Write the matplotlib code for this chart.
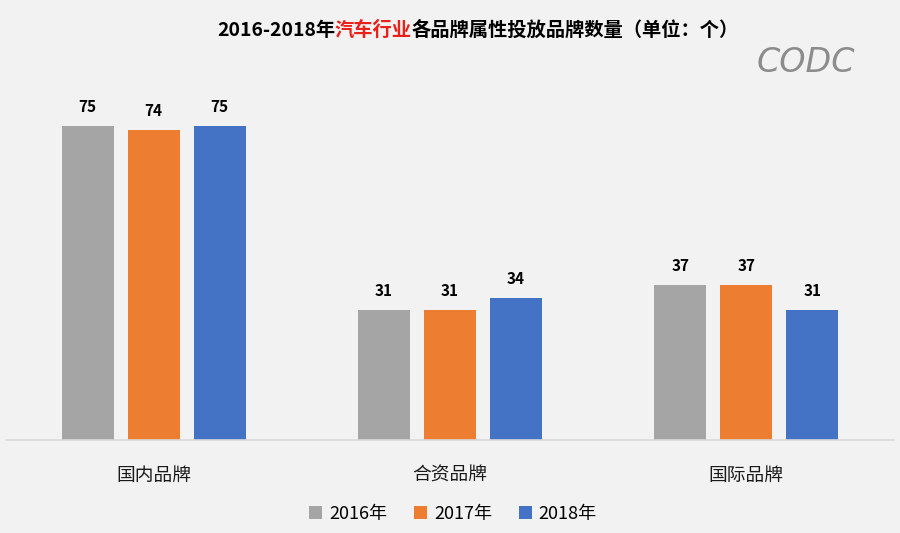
import numpy as np
import matplotlib.pyplot as plt
from matplotlib.offsetbox import TextArea, HPacker, AnchoredOffsetbox

plt.rcParams['font.family'] = ['Noto Sans CJK SC', 'DejaVu Sans']

# Data
categories = ['国内品牌', '合资品牌', '国际品牌']
years = ['2016年', '2017年', '2018年']
values_2016 = [75, 31, 37]
values_2017 = [74, 31, 37]
values_2018 = [75, 34, 31]
colors = ['#A5A5A5', '#ED7D31', '#4472C4']

bg = '#F2F2F2'
fig = plt.figure(figsize=(9, 5.33), dpi=100, facecolor=bg)
ax = fig.add_axes([5.5 / 900, 93 / 533, 889 / 900, 340 / 533])
ax.set_facecolor(bg)

x = np.arange(len(categories))
width = 0.175
step = 0.223
series = [values_2016, values_2017, values_2018]
for i, (vals, year, c) in enumerate(zip(series, years, colors)):
    bars = ax.bar(x + (i - 1) * step, vals, width, color=c, label=year)
    for b, v in zip(bars, vals):
        ax.text(b.get_x() + b.get_width() / 2, v + 2.6, str(v),
                ha='center', va='bottom', fontsize=11, fontweight='bold',
                color='#000000')

ax.set_xlim(-0.5, 2.5)
ax.set_ylim(0, 81.2)
ax.set_xticks(x)
ax.set_xticklabels(categories, fontsize=13.5, color='#1a1a1a')
ax.tick_params(axis='x', length=0, pad=18)
ax.set_yticks([])
for s in ['top', 'right', 'left']:
    ax.spines[s].set_visible(False)
ax.spines['bottom'].set_color('#D9D9D9')
ax.spines['bottom'].set_linewidth(1.2)

# Legend
leg = fig.legend(loc='center', bbox_to_anchor=(453 / 900, 1 - 514 / 533),
                 ncol=3, frameon=False, fontsize=13, handlelength=0.7,
                 handleheight=0.7, handletextpad=0.4, columnspacing=1.5)

# Title with red highlight
parts = [('2016-2018年', '#000000'), ('汽车行业', '#E8211A'),
         ('各品牌属性投放品牌数量（单位：个）', '#000000')]
boxes = [TextArea(t, textprops=dict(color=c, fontsize=13.9, fontweight='bold'))
         for t, c in parts]
title = AnchoredOffsetbox(loc='center', child=HPacker(children=boxes, pad=0, sep=0),
                          frameon=False, bbox_to_anchor=(478 / 900, 1 - 30 / 533),
                          bbox_transform=fig.transFigure, pad=0, borderpad=0)
fig.add_artist(title)

# Logo
fig.text(806 / 900, 1 - 62 / 533, 'CODC', ha='center', va='center',
         fontsize=24, fontstyle='italic', color='#8C8C8C',
         family='DejaVu Sans')

fig.savefig('out.png', dpi=100, facecolor=bg)
